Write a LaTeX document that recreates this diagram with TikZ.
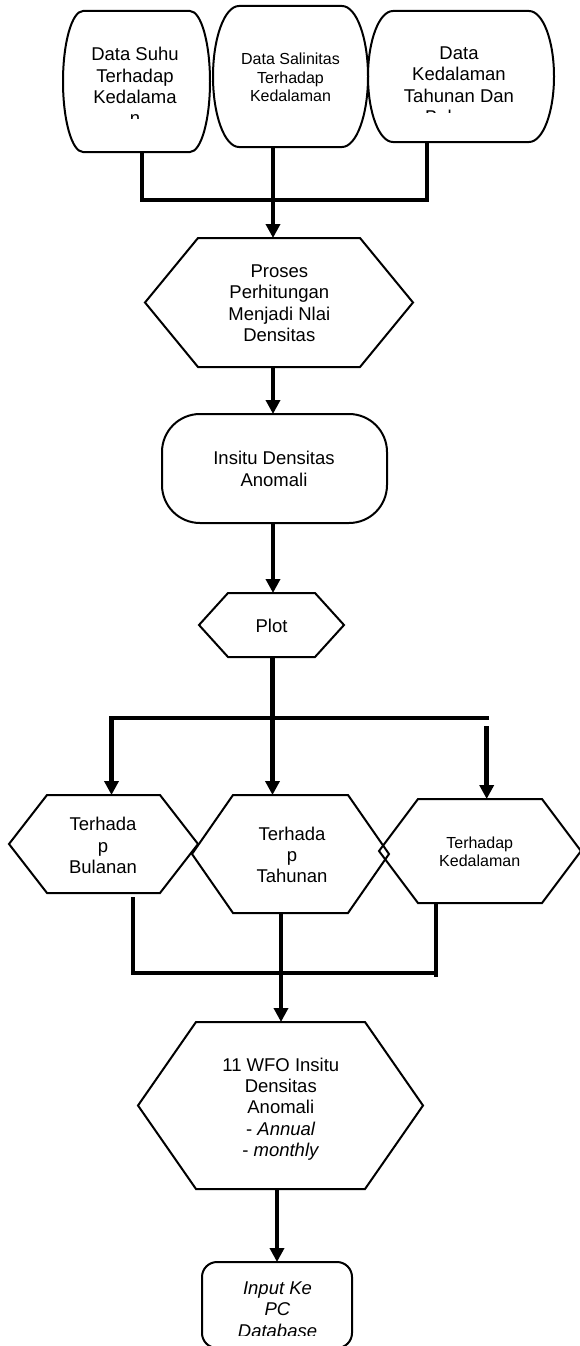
\documentclass[tikz,border=0pt]{standalone}
\usepackage{fontspec}
\setmainfont{Liberation Sans}
\usetikzlibrary{arrows.meta,calc}
\newcommand\fbig{\fontsize{18.5}{21.3}\selectfont}
\newcommand\fsmall{\fontsize{16}{18.4}\selectfont}
\newcommand\hexdraw[2]{\draw[shapeline] ($(#1.north west)+(#2,0)$) -- ($(#1.north east)+(-#2,0)$) -- (#1.east) -- ($(#1.south east)+(-#2,0)$) -- ($(#1.south west)+(#2,0)$) -- (#1.west) -- cycle;}
\newcommand\barreldraw[2]{\draw[shapeline] ($(#1.north west)+(#2,0)$) -- ($(#1.north east)+(-#2,0)$)
  .. controls ($(#1.north east)+(-0.448*#2,0)$) and ($(#1.east)!0.552!(#1.north east)$) .. (#1.east)
  .. controls ($(#1.east)!0.552!(#1.south east)$) and ($(#1.south east)+(-0.448*#2,0)$) .. ($(#1.south east)+(-#2,0)$)
  -- ($(#1.south west)+(#2,0)$)
  .. controls ($(#1.south west)+(0.448*#2,0)$) and ($(#1.west)!0.552!(#1.south west)$) .. (#1.west)
  .. controls ($(#1.west)!0.552!(#1.north west)$) and ($(#1.north west)+(0.448*#2,0)$) .. ($(#1.north west)+(#2,0)$) -- cycle;}
\begin{document}
\begin{tikzpicture}[x=1pt,y=-1pt,
  box/.style={draw=none,inner sep=0pt,outer sep=0pt},
  shapeline/.style={draw=black,line width=2pt,line join=miter},
  rbox/.style={box,draw=black,line width=2pt},
  conn/.style={line width=4.5pt,draw=black},
  arr/.style={conn,-{Triangle[length=14pt,width=14pt]}},
  txt/.style={align=center,inner sep=0pt,font=\fbig},
  txts/.style={align=center,inner sep=0pt,font=\fsmall}]
\useasboundingbox[fill=white] (0,0) rectangle (580,1346);

% top data shapes
\node[box,minimum width=147pt,minimum height=141pt] (s1) at (136.5,81.5) {};
\node[box,minimum width=155pt,minimum height=141pt] (s2) at (290.5,76.5) {};
\node[box,minimum width=186pt,minimum height=131pt] (s3) at (461,76.5) {};
\barreldraw{s1}{20}
\barreldraw{s2}{26}
\barreldraw{s3}{25}
\begin{scope}
\clip (55,0) rectangle (215,118.5);
\node[txt] (s1t) at (135,86.2) {Data Suhu\\Terhadap\\Kedalama\\n};
\end{scope}
\node[txts] (s2t) at (290.5,77.6) {Data Salinitas\\Terhadap\\Kedalaman};
\begin{scope}
\clip (370,0) rectangle (555,112.3);
\node[txt] (s3t) at (459,85.35) {Data\\Kedalaman\\Tahunan Dan\\Bulanan};
\end{scope}

% process hexagon
\node[box,minimum width=268pt,minimum height=129pt] (hp) at (279,302.5) {};
\hexdraw{hp}{53}
\node[txt] (hpt) at (279.3,303.35) {Proses\\Perhitungan\\Menjadi Nlai\\Densitas};

% insitu rounded box
\node[rbox,rounded corners=38pt,minimum width=225pt,minimum height=109pt] (ib) at (274.5,468.5) {};
\node[txt] (ibt) at (274,469) {Insitu Densitas\\Anomali};

% plot hexagon
\node[box,minimum width=145pt,minimum height=64pt] (pl) at (271.5,625) {};
\hexdraw{pl}{29}
\node[txt] (plt) at (271.5,625.4) {Plot};

% three hexagons
\node[box,minimum width=189pt,minimum height=98pt] (hb) at (103.5,844) {};
\hexdraw{hb}{38}
\node[txt] (hbt) at (103,845.4) {Terhada\\p\\Bulanan};
\node[box,minimum width=197pt,minimum height=118pt] (ht) at (290.5,854) {};
\hexdraw{ht}{41}
\node[txt] (htt) at (292,854.7) {Terhada\\p\\Tahunan};
\node[box,minimum width=202pt,minimum height=104pt] (hk) at (480,851) {};
\hexdraw{hk}{39}
\node[txts] (hkt) at (479.7,851.5) {Terhadap\\Kedalaman};

% WFO hexagon
\node[box,minimum width=285pt,minimum height=167pt] (hw) at (280.5,1105.5) {};
\hexdraw{hw}{58}
\node[txt] (hwt) at (280.8,1109) {11 WFO Insitu\\Densitas\\Anomali\\- \textit{Annual}\\- \textit{monthly}};

% input box
\node[rbox,rounded corners=15pt,minimum width=150pt,minimum height=86pt] (ibx) at (277,1305) {};
\begin{scope}
\clip (200,1262) rectangle (355,1335.5);
\node[txt,font=\fbig\itshape] (ibxt) at (277.5,1309.7) {Input Ke\\PC\\Database};
\end{scope}

% connectors top
\coordinate (m1L) at (142,200);
\coordinate (m1M) at (273,200);
\coordinate (m1R) at (427,200);
\draw[conn] (s1.south -| m1L) -- (m1L) -- (m1R) -- (s3.south -| m1R);
\draw[arr] (s2.south -| m1M) -- (hp.north -| m1M);

\coordinate (a2) at (273,0);
\draw[arr] (hp.south -| a2) -- (ib.north -| a2);
\draw[arr] (ib.south -| a2) -- (pl.north -| a2);

% branches
\coordinate (m2L) at (111.5,718);
\coordinate (m2M) at (272.5,718);
\coordinate (m2E) at (489,718);
\coordinate (m2R) at (486.7,726);
\draw[conn] (pl.south -| m2M) -- (m2M);
\draw[arr] (m2E) -- (m2L) -- (hb.north -| m2L);
\draw[arr] (m2M) -- (ht.north -| m2M);
\draw[arr] (m2R) -- (hk.north -| m2R);

% merge
\coordinate (m3L) at (133,973);
\coordinate (m3M) at (281,973);
\coordinate (m3R) at (436,973);
\draw[conn] ($(hb.south -| m3L)+(0,4)$) -- (m3L) -- (m3R);
\draw[conn] (hk.south -| m3R) -- ($(m3R)+(0,4)$);
\draw[arr] (ht.south -| m3M) -- (hw.north -| m3M);

\coordinate (a4) at (277,0);
\draw[arr] (hw.south -| a4) -- (ibx.north -| a4);
\end{tikzpicture}
\end{document}
